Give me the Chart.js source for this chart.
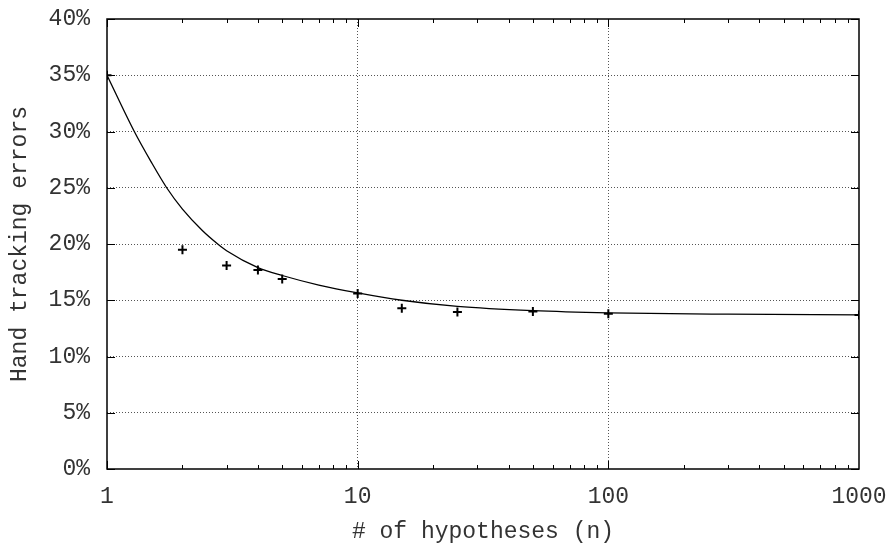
<!DOCTYPE html>
<html>
<head>
<meta charset="utf-8">
<script src="https://cdn.jsdelivr.net/npm/chart.js@4.4.1/dist/chart.umd.min.js"></script>
<style>
  html, body { margin: 0; padding: 0; background: #fff; }
</style>
</head>
<body>
<canvas id="errorsChart" width="888" height="546"></canvas>
<script>
// measured points (+ markers)
const hypotheses = [1, 2, 3, 4, 5, 10, 15, 25, 50, 100, 1000];
const trackingErrors = [35, 19.5, 18.1, 17.7, 16.9, 15.6, 14.3, 13.95, 14.0, 13.8, 13.7];

// fitted curve
const fitHypotheses = [1, 1.285, 1.5, 1.73, 2, 2.4, 2.765, 3, 4, 5, 7, 10, 15, 25, 50, 100, 300, 1000];
const fitErrors = [35, 30, 27.3, 25, 23.1, 21.2, 20, 19.4, 17.9, 17.2, 16.35, 15.65, 15.0, 14.45, 14.07, 13.88, 13.76, 13.7];

const xTicks = [1, 10, 100, 1000];
const yTicks = [0, 5, 10, 15, 20, 25, 30, 35, 40];

const monoFont = { family: "'Liberation Mono', 'Courier New', monospace", size: 23 };
const textColor = '#333';
const gridColor = '#555';

// gnuplot style box with inward ticks
const boxTicks = {
  id: 'boxTicks',
  beforeDatasetsDraw(chart) {
    const { ctx, chartArea: a, scales: { x, y } } = chart;
    ctx.save();
    ctx.strokeStyle = '#000';
    ctx.lineWidth = 1;
    ctx.beginPath();
    for (let d = 1; d < 1000; d *= 10) {
      for (let m = 1; m < 10; m++) {
        const px = Math.round(x.getPixelForValue(d * m)) + 0.5;
        const len = m === 1 ? 8 : 4;
        ctx.moveTo(px, a.bottom); ctx.lineTo(px, a.bottom - len);
        ctx.moveTo(px, a.top); ctx.lineTo(px, a.top + len);
      }
    }
    yTicks.forEach(v => {
      const py = Math.round(y.getPixelForValue(v)) + 0.5;
      ctx.moveTo(a.left, py); ctx.lineTo(a.left + 8, py);
      ctx.moveTo(a.right, py); ctx.lineTo(a.right - 8, py);
    });
    ctx.stroke();
    ctx.lineWidth = 1.5;
    ctx.strokeRect(a.left, a.top, a.right - a.left, a.bottom - a.top);
    ctx.restore();
  }
};

new Chart(document.getElementById('errorsChart'), {
  type: 'scatter',
  data: {
    datasets: [
      {
        type: 'line',
        data: fitHypotheses.map((n, i) => ({ x: n, y: fitErrors[i] })),
        borderColor: '#000',
        borderWidth: 1.3,
        pointRadius: 0,
        cubicInterpolationMode: 'monotone',
        fill: false,
        order: 2
      },
      {
        data: hypotheses.map((n, i) => ({ x: n, y: trackingErrors[i] })),
        pointStyle: 'cross',
        pointRadius: 4.5,
        borderWidth: 2,
        borderColor: '#000',
        backgroundColor: '#000',
        order: 1
      }
    ]
  },
  options: {
    responsive: false,
    animation: false,
    layout: { padding: { top: 19, right: 29, left: 0, bottom: 0 } },
    plugins: { legend: { display: false }, tooltip: { enabled: false } },
    scales: {
      x: {
        type: 'logarithmic',
        min: 1,
        max: 1000,
        afterBuildTicks: s => { s.ticks = xTicks.map(v => ({ value: v })); },
        afterFit: s => {
          s.height = 77;
          s.paddingLeft = 0;
          s.paddingRight = 0;
        },
        ticks: {
          callback: v => String(v),
          font: monoFont,
          color: textColor,
          padding: 14,
          maxRotation: 0,
          autoSkip: false
        },
        grid: {
          color: c => (c.tick && (c.tick.value === 10 || c.tick.value === 100)) ? gridColor : 'rgba(0,0,0,0)',
          drawTicks: false,
          lineWidth: 1
        },
        border: { display: false, dash: [1, 2] },
        title: { display: true, text: '# of hypotheses (n)', font: monoFont, color: textColor, padding: 0 }
      },
      y: {
        min: 0,
        max: 40,
        afterBuildTicks: s => { s.ticks = yTicks.map(v => ({ value: v })); },
        afterFit: s => {
          s.width = 107;
          s.paddingTop = 0;
          s.paddingBottom = 0;
        },
        ticks: {
          callback: v => v + '%',
          font: monoFont,
          color: textColor,
          padding: 17
        },
        grid: {
          color: c => (c.tick && c.tick.value !== 0 && c.tick.value !== 40) ? gridColor : 'rgba(0,0,0,0)',
          drawTicks: false,
          lineWidth: 1
        },
        border: { display: false, dash: [1, 2] },
        title: { display: true, text: 'Hand tracking errors', font: monoFont, color: textColor, padding: { top: 6, bottom: 0 } }
      }
    }
  },
  plugins: [boxTicks]
});
</script>
</body>
</html>
